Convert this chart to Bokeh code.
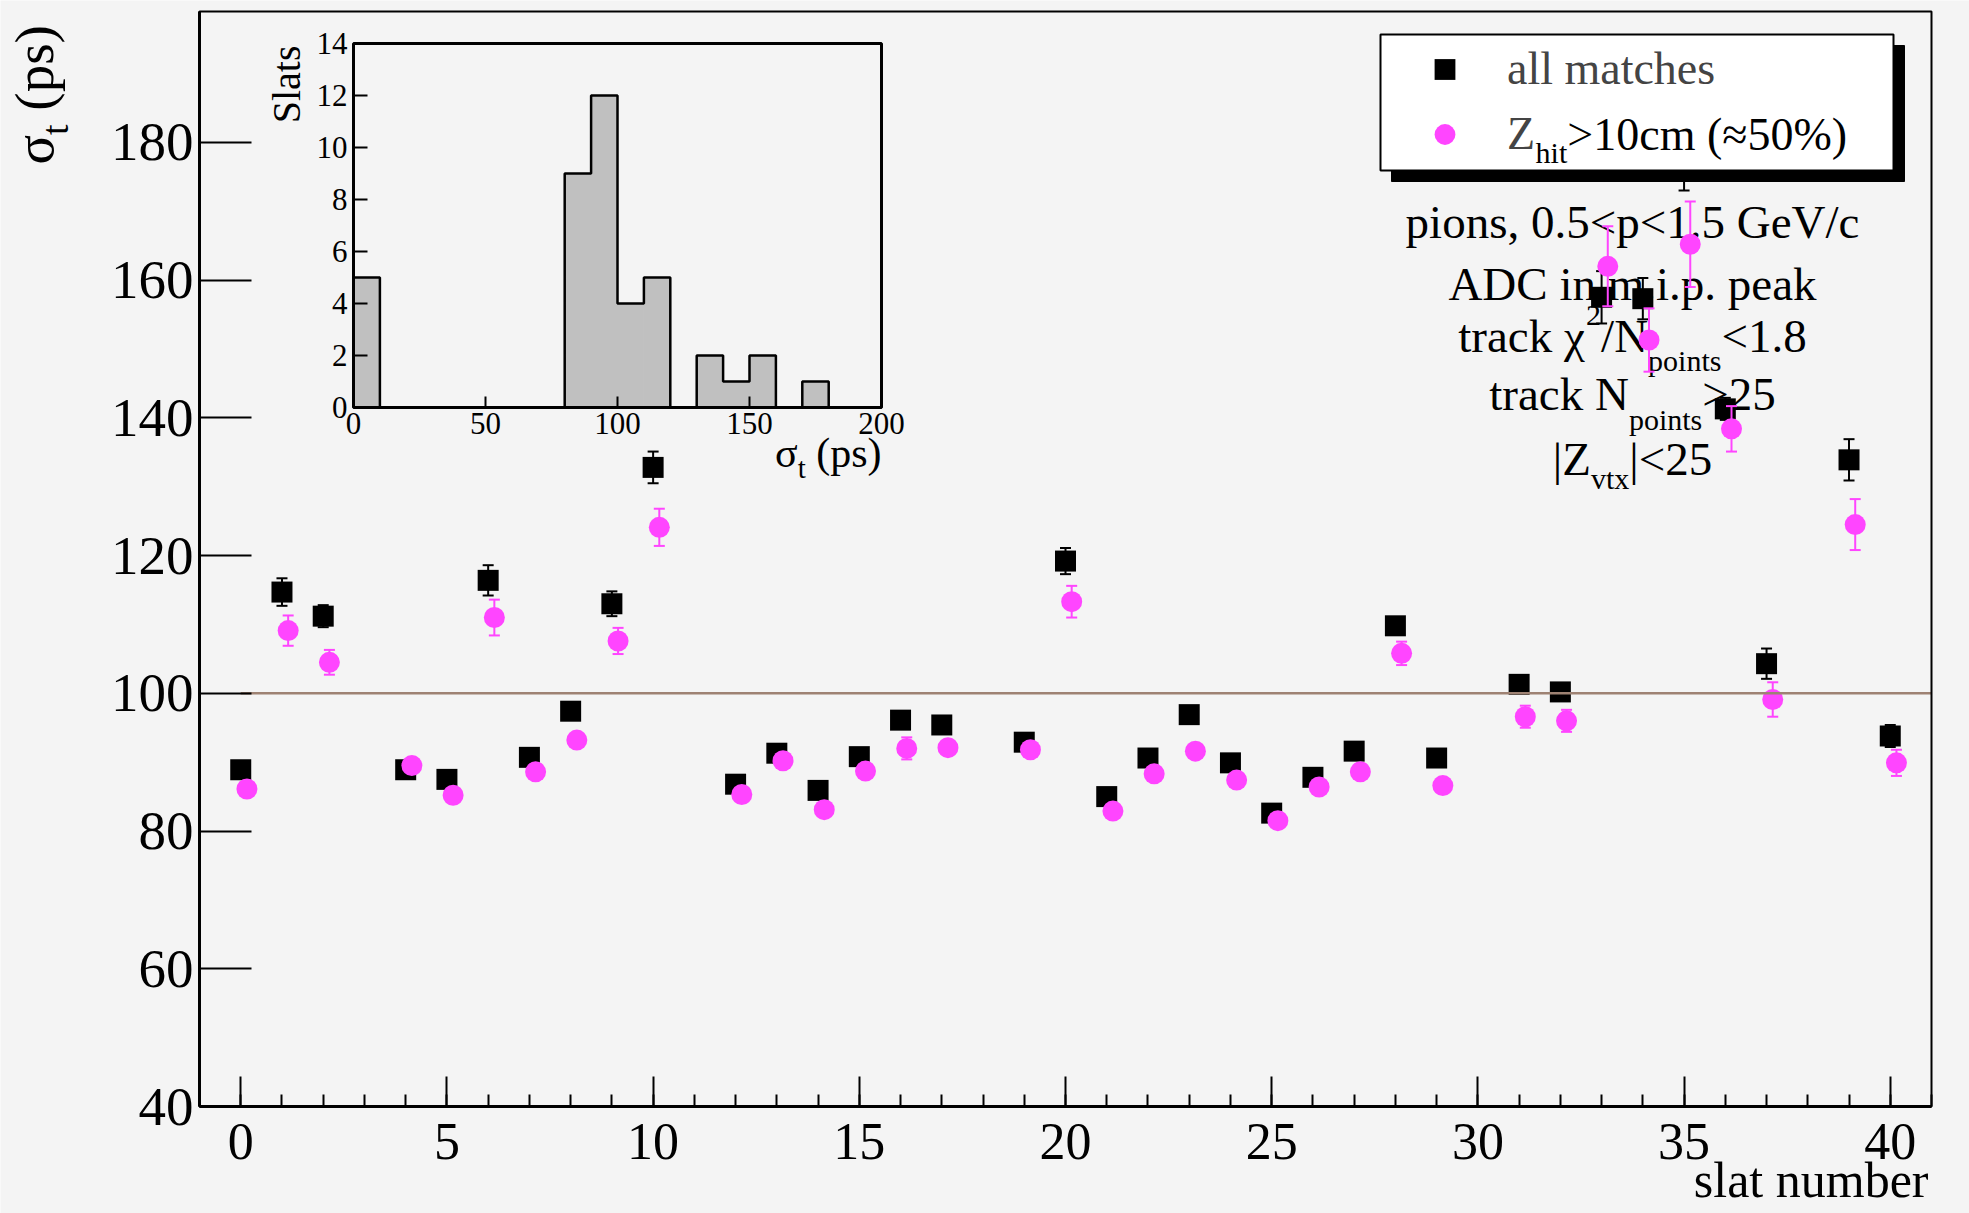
import math
from bokeh.plotting import figure
from bokeh.models import (ColumnDataSource, Label, Legend, LegendItem, BoxAnnotation,
                          Range1d, SingleIntervalTicker)
from bokeh.core.properties import value
from bokeh.embed import file_html
from bokeh.resources import INLINE

# ---------------- data ----------------
slats = [0, 1, 2, 4, 5, 6, 7, 8, 9, 10, 12, 13, 14, 15, 16, 17, 19, 20, 21, 22, 23, 24,
         25, 26, 27, 28, 29, 31, 32, 33, 34, 35, 36, 37, 39, 40]
sigma_all = [88.9, 114.7, 111.2, 88.9, 87.5, 116.4, 90.7, 97.4, 113.0, 132.8, 86.8, 91.3,
             85.9, 90.8, 96.1, 95.4, 92.9, 119.2, 85.0, 90.6, 96.9, 89.9, 82.6, 87.8, 91.6,
             109.8, 90.6, 101.3, 100.2, 157.5, 157.3, 176.0, 141.3, 104.3, 133.9, 93.8]
err_all = [1.0, 2.0, 1.6, 1.0, 1.0, 2.2, 1.0, 1.0, 1.8, 2.3, 1.0, 1.0, 1.0, 1.0, 1.0, 1.0,
           1.0, 1.9, 1.0, 1.0, 1.0, 1.0, 1.0, 1.0, 1.0, 1.2, 1.0, 1.2, 1.2, 3.8, 3.0, 3.0,
           1.6, 2.2, 3.0, 1.6]
sigma_zhit = [86.1, 109.1, 104.5, 89.5, 85.2, 111.0, 88.6, 93.2, 107.6, 124.1, 85.3, 90.2,
              83.1, 88.7, 92.0, 92.1, 91.8, 113.3, 82.9, 88.3, 91.6, 87.4, 81.5, 86.4, 88.6,
              105.8, 86.6, 96.6, 96.0, 162.0, 151.3, 165.2, 138.4, 99.1, 124.5, 89.9]
err_zhit = [1.0, 2.2, 1.8, 1.0, 1.0, 2.6, 1.0, 1.0, 1.9, 2.7, 1.0, 1.0, 1.0, 1.0, 1.6, 1.0,
            1.0, 2.3, 1.0, 1.0, 1.0, 1.0, 1.0, 1.0, 1.0, 1.7, 1.0, 1.6, 1.6, 5.8, 4.6, 6.2,
            3.3, 2.5, 3.7, 1.9]
ref_level = 100
ref_x = [0, 41]

hist_edges = [0, 10, 20, 30, 40, 50, 60, 70, 80, 90, 100, 110, 120, 130, 140, 150, 160,
              170, 180, 190, 200]
hist_counts = [5, 0, 0, 0, 0, 0, 0, 0, 9, 12, 4, 5, 0, 2, 1, 2, 0, 1, 0, 0]
inset_xticks = [0, 50, 100, 150, 200]
inset_yticks = [0, 2, 4, 6, 8, 10, 12, 14]

legend_labels = ["all matches", "Z"]
cut_lines = [
    [("pions, 0.5<p<1.5 GeV/c", 0)],
    [("ADC in m.i.p. peak", 0)],
    [("track χ", 0), ("2", 1), ("/N", 0), ("points", -1), ("<1.8", 0)],
    [("track N", 0), ("points", -1), (">25", 0)],
    [("|Z", 0), ("vtx", -1), ("|<25", 0)],
]

# ---------------- layout / style ----------------
W, H = 1969, 1213
BL, BR, BT, BB = 199, 1931, 11, 1106        # screen box of the main plot area
X0, X1 = -1, 41
Y0, Y1 = 40, 199
KX = (BR - BL) / (X1 - X0)
KY = (BB - BT) / (Y1 - Y0)
BG = "#f4f4f4"
PINK = "#ff45ff"
FONT = "Liberation Serif"
PINK_DX = 0.15
BASE_FIX = 0.28      # em correction for alphabetic baseline placement

TW = {' ': 250, '!': 333, '%': 833, '(': 333, ')': 333, ',': 250, '-': 333, '.': 250,
      '/': 278, '<': 564, '>': 564, '=': 564, '|': 200, 'σ': 537, 'χ': 470, '≈': 549}
for d in "0123456789":
    TW[d] = 500
TW.update(dict(zip("ABCDEFGHIJKLMNOPQRSTUVWXYZ",
                   [722, 667, 667, 722, 611, 556, 722, 722, 333, 389, 722, 611, 889, 722,
                    722, 556, 722, 667, 556, 611, 722, 722, 944, 722, 722, 611])))
TW.update(dict(zip("abcdefghijklmnopqrstuvwxyz",
                   [444, 500, 444, 500, 444, 333, 500, 500, 278, 278, 500, 278, 778, 500,
                    500, 500, 500, 333, 389, 278, 500, 500, 722, 500, 500, 444])))


def tw(s, size):
    return sum(TW.get(c, 500) for c in s) * size / 1000.0


def DX(sx):
    return X0 + (sx - BL) / KX


def DY(sy):
    return Y0 + (BB - sy) / KY


# the frame covers the whole canvas; axes are pinned with fixed_location
p = figure(width=W, height=H, output_backend="svg", toolbar_location=None,
           x_range=Range1d(DX(0), DX(W)), y_range=Range1d(DY(H), DY(0)),
           min_border_left=0, min_border_right=0, min_border_top=0, min_border_bottom=0)
p.background_fill_color = BG
p.border_fill_color = BG
p.grid.visible = False
p.outline_line_color = None

xa = p.xaxis[0]
xa.fixed_location = Y0
xa.bounds = (X0, X1)
xa.ticker = SingleIntervalTicker(interval=5, num_minor_ticks=5)
xa.major_tick_in = 30
xa.major_tick_out = 0
xa.minor_tick_in = 12
xa.minor_tick_out = 0
xa.axis_line_width = 3
xa.major_tick_line_width = 2
xa.minor_tick_line_width = 2
xa.major_label_text_font = FONT
xa.major_label_text_font_size = "52px"
xa.major_label_text_color = "black"
xa.major_label_standoff = 17

ya = p.yaxis[0]
ya.fixed_location = X0
ya.bounds = (Y0, Y1)
ya.ticker = SingleIntervalTicker(interval=20, num_minor_ticks=0)
ya.major_tick_in = 52
ya.major_tick_out = 0
ya.minor_tick_in = 0
ya.minor_tick_out = 0
ya.axis_line_width = 3
ya.major_tick_line_width = 2
ya.major_label_text_font = FONT
ya.major_label_text_font_size = "55px"
ya.major_label_text_color = "black"
ya.major_label_standoff = 6

# top / right frame lines
p.add_layout(BoxAnnotation(left=X0, right=X1, bottom=Y0, top=Y1, fill_alpha=0,
                           line_color="black", line_alpha=1, line_width=2))


def hpieces(pieces, sx, sy, align="left", level="annotation"):
    total = sum(tw(t, s) for t, s, d in pieces)
    x = sx - (total / 2 if align == "center" else total if align == "right" else 0)
    for t, s, d in pieces:
        if t.startswith(" "):
            x += tw(" ", s)
            t = t.lstrip(" ")
        p.add_layout(Label(x=DX(x), y=DY(sy - d - BASE_FIX * s), text=t, text_font=FONT,
                           text_font_size=f"{s}px", text_align="left",
                           text_baseline="alphabetic", text_color="black", level=level))
        x += tw(t, s)


def vpieces(pieces, sx, sy, align="left"):
    total = sum(tw(t, s) for t, s, d in pieces)
    y = sy + (total if align == "right" else 0)
    for t, s, d in pieces:
        if t.startswith(" "):
            y -= tw(" ", s)
            t = t.lstrip(" ")
        p.add_layout(Label(x=DX(sx - d - BASE_FIX * s), y=DY(y), text=t, text_font=FONT,
                           text_font_size=f"{s}px", text_align="left",
                           text_baseline="alphabetic", text_color="black",
                           angle=math.pi / 2))
        y -= tw(t, s)


# ---------------- cut description text (under the points) ----------------
MAIN, SUB = 47, 30
shift = {0: 0, 1: 25, -1: -20}
line_base = [234.7, 296.7, 348.6, 407.0, 472.0]
for pieces, base in zip(cut_lines, line_base):
    pcs = []
    for t, k in pieces:
        sz = MAIN if k == 0 else SUB
        dd = shift[k]
        if t == "vtx":
            dd = -14.5
        pcs.append((t, sz, dd))
    hpieces(pcs, 1632, base, align="center", level="underlay")

# ---------------- data points ----------------
lo_all = [v - e for v, e in zip(sigma_all, err_all)]
hi_all = [v + e for v, e in zip(sigma_all, err_all)]
x_z = [s + PINK_DX for s in slats]
lo_z = [v - e for v, e in zip(sigma_zhit, err_zhit)]
hi_z = [v + e for v, e in zip(sigma_zhit, err_zhit)]

src_all = ColumnDataSource(dict(x=slats, y=sigma_all, lo=lo_all, hi=hi_all))
src_z = ColumnDataSource(dict(x=x_z, y=sigma_zhit, lo=lo_z, hi=hi_z))

p.segment(x0="x", y0="lo", x1="x", y1="hi", source=src_all, line_color="black", line_width=2)
p.scatter(x="x", y="lo", source=src_all, marker="dash", size=11, line_color="black", line_width=2)
p.scatter(x="x", y="hi", source=src_all, marker="dash", size=11, line_color="black", line_width=2)
r_all = p.scatter(x="x", y="y", source=src_all, marker="square", size=21,
                  fill_color="black", line_color="black", line_width=0)

p.segment(x0="x", y0="lo", x1="x", y1="hi", source=src_z, line_color=PINK, line_width=2)
p.scatter(x="x", y="lo", source=src_z, marker="dash", size=11, line_color=PINK, line_width=2)
p.scatter(x="x", y="hi", source=src_z, marker="dash", size=11, line_color=PINK, line_width=2)
r_z = p.scatter(x="x", y="y", source=src_z, marker="circle", size=21,
                fill_color=PINK, line_color=PINK, line_width=0)

p.line(x=ref_x, y=[ref_level, ref_level], line_color="#9e8273", line_width=2.5)

# ---------------- inset histogram ----------------
IL, IR, IT, IB = 353, 881, 43, 407
hxp = 200.0 / (IR - IL)
hyp = 14.0 / (IB - IT)
p.extra_x_ranges = {"hx": Range1d(0 - IL * hxp, 200 + (W - IR) * hxp)}
p.extra_y_ranges = {"hy": Range1d(0 - (H - IB) * hyp, 14 + IT * hyp)}

p.quad(left=hist_edges[:-1], right=hist_edges[1:], bottom=0, top=hist_counts,
       x_range_name="hx", y_range_name="hy", fill_color="#c0c0c0",
       line_color="#c0c0c0", line_width=1)
p.step(x=hist_edges, y=hist_counts + [0], mode="after", x_range_name="hx",
       y_range_name="hy", line_color="black", line_width=2.5)
p.segment(x0=inset_xticks, x1=inset_xticks, y0=[0] * len(inset_xticks),
          y1=[11 * hyp] * len(inset_xticks), x_range_name="hx", y_range_name="hy",
          line_color="black", line_width=2)
p.segment(x0=[0] * len(inset_yticks), x1=[14 * hxp] * len(inset_yticks), y0=inset_yticks,
          y1=inset_yticks, x_range_name="hx", y_range_name="hy",
          line_color="black", line_width=2)
p.text(x=inset_xticks, y=[-5 * hyp] * len(inset_xticks), text=[str(t) for t in inset_xticks],
       x_range_name="hx", y_range_name="hy", text_font=value(FONT), text_font_size="31px",
       text_align="center", text_baseline="top", text_color="black")
p.text(x=[-6 * hxp] * len(inset_yticks), y=inset_yticks, text=[str(t) for t in inset_yticks],
       x_range_name="hx", y_range_name="hy", text_font=value(FONT), text_font_size="31px",
       text_align="right", text_baseline="middle", text_color="black")
p.add_layout(BoxAnnotation(left=0, right=200, bottom=0, top=14, x_range_name="hx",
                           y_range_name="hy", fill_alpha=0, line_color="black",
                           line_alpha=1, line_width=3))

# inset titles
vpieces([("Slats", 40, 0)], 297, 45, align="right")
hpieces([("σ", 42, 0), ("t", 29, -12), (" (ps)", 42, 0)], 881, 464, align="right")

# main axis titles
vpieces([("σ", 55, 0), ("t", 38, -16), (" (ps)", 55, 0)], 49, 164)
hpieces([("slat number", 50, 0)], 1928, 1193, align="right")

# ---------------- legend ----------------
LL, LT, LR, LB = 1380, 34, 1893, 170
SH = 11
p.add_layout(BoxAnnotation(left=DX(LL + SH), right=DX(LR + SH), top=DY(LT + SH),
                           bottom=DY(LB + SH), fill_color="black", fill_alpha=1,
                           line_color="black", line_alpha=1))
p.add_layout(BoxAnnotation(left=DX(LL), right=DX(LR), top=DY(LT), bottom=DY(LB),
                           fill_color="white", fill_alpha=1, line_color="black",
                           line_alpha=1, line_width=2))
LPAD, GW, LSTAND = 6, 117, 4
legend = Legend(items=[LegendItem(label=legend_labels[0], renderers=[r_all]),
                       LegendItem(label=legend_labels[1], renderers=[r_z])],
                location=(LL, H - 166), margin=0, padding=LPAD, spacing=12,
                glyph_width=GW, glyph_height=52, label_height=52, label_width=376,
                label_standoff=LSTAND, border_line_alpha=0, background_fill_alpha=0,
                label_text_font=FONT, label_text_font_size="46px")
p.add_layout(legend)
zx = LL + LPAD + GW + LSTAND + tw("Z", 46)
hpieces([("hit", 30, -14), (">10cm (≈50%)", 46, 0)], zx, 146.5, level="overlay")

open("out.html", "w").write(file_html(p, INLINE))
